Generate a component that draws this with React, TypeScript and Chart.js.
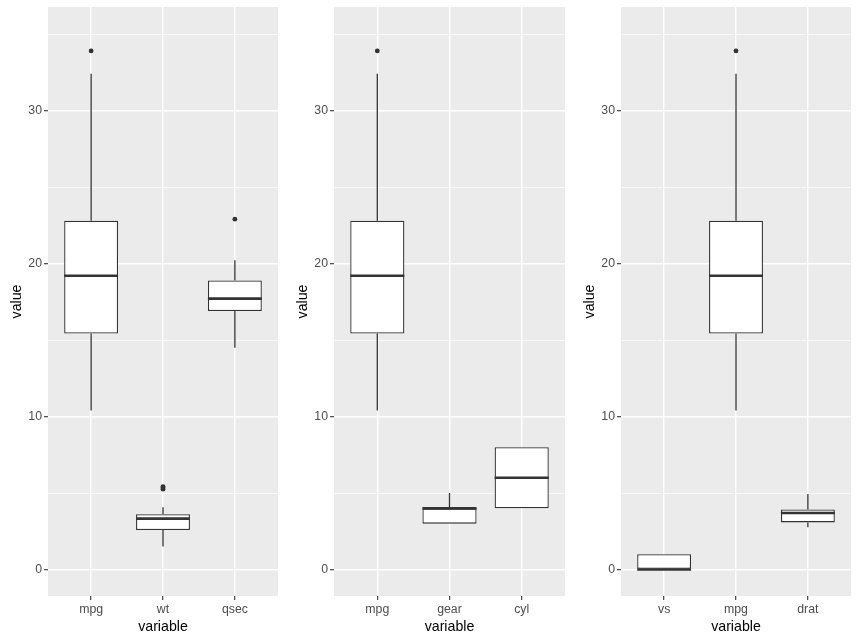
import React, { useEffect, useRef } from 'react';
import { Chart, registerables } from 'chart.js';

Chart.register(...registerables);

// ---- Data (mtcars boxplot statistics) ----
const VARIABLES = ['mpg', 'wt', 'qsec', 'gear', 'cyl', 'vs', 'drat'];
const LOWER_WHISKER = [10.4, 1.513, 14.5, 3, 4, 0, 2.76];
const Q1 = [15.425, 2.58125, 16.8925, 3, 4, 0, 3.08];
const MEDIAN = [19.2, 3.325, 17.71, 4, 6, 0, 3.695];
const Q3 = [22.8, 3.61, 18.9, 4, 8, 1, 3.92];
const UPPER_WHISKER = [32.4, 4.07, 20.22, 5, 8, 1, 4.93];
const OUTLIERS: number[][] = [[33.9], [5.25, 5.345, 5.424], [22.9], [], [], [], []];

const PANEL1 = ['mpg', 'wt', 'qsec'];
const PANEL2 = ['mpg', 'gear', 'cyl'];
const PANEL3 = ['vs', 'mpg', 'drat'];

const Y_MAJOR_TICKS = [0, 10, 20, 30];
const Y_MINOR_TICKS = [5, 15, 25, 35];

const X_TITLE = 'variable';
const Y_TITLE = 'value';

// ---- Styling ----
const FONT = '"Liberation Sans", Arial, Helvetica, sans-serif';
const INK = '#333333';
const PANEL_BG = '#EBEBEB';
const BOX_WIDTH = 0.75;
const CANVAS_H = 641;
const PLOT_TOP = 7;

const bgPlugin = {
  id: 'panelBg',
  beforeDraw(chart: any) {
    const { ctx, chartArea } = chart;
    ctx.save();
    ctx.fillStyle = PANEL_BG;
    ctx.fillRect(chartArea.left, chartArea.top, chartArea.right - chartArea.left, chartArea.bottom - chartArea.top);
    ctx.restore();
  },
};

function Panel({ vars, width, left }: { vars: string[]; width: number; left: number }) {
  const ref = useRef<HTMLCanvasElement>(null);
  useEffect(() => {
    if (!ref.current) return;
    const idx = vars.map((v) => VARIABLES.indexOf(v));
    const pos = vars.map((_, i) => i + 1);
    const boxes = idx.map((k, i) => ({ x: pos[i], y: [Q1[k], Q3[k]] }));
    const lowW = idx.map((k, i) => ({ x: pos[i], y: [LOWER_WHISKER[k], Q1[k]] }));
    const upW = idx.map((k, i) => ({ x: pos[i], y: [Q3[k], UPPER_WHISKER[k]] }));
    const med: any[] = [];
    idx.forEach((k, i) => {
      med.push({ x: pos[i] - BOX_WIDTH / 2, y: MEDIAN[k] });
      med.push({ x: pos[i] + BOX_WIDTH / 2, y: MEDIAN[k] });
      med.push({ x: pos[i] + 0.45, y: null });
    });
    const outs = idx.flatMap((k, i) => OUTLIERS[k].map((y) => ({ x: pos[i], y })));
    const allY = [...Y_MAJOR_TICKS, ...Y_MINOR_TICKS].sort((a, b) => a - b);

    const chart = new Chart(ref.current, {
      type: 'bar',
      data: {
        datasets: [
          {
            type: 'bar',
            data: lowW as any,
            grouped: false,
            backgroundColor: INK,
            borderWidth: 0,
            maxBarThickness: 1.3,
            order: 3,
          } as any,
          {
            type: 'bar',
            data: upW as any,
            grouped: false,
            backgroundColor: INK,
            borderWidth: 0,
            maxBarThickness: 1.3,
            order: 3,
          } as any,
          {
            type: 'bar',
            data: boxes as any,
            grouped: false,
            backgroundColor: '#FFFFFF',
            borderColor: INK,
            borderWidth: 1.3,
            borderSkipped: false,
            barPercentage: BOX_WIDTH,
            categoryPercentage: 1,
            order: 2,
          } as any,
          {
            type: 'line',
            data: med,
            borderColor: INK,
            borderWidth: 2.6,
            pointRadius: 0,
            spanGaps: false,
            tension: 0,
            order: 1,
          } as any,
          {
            type: 'scatter',
            data: outs as any,
            backgroundColor: INK,
            borderWidth: 0,
            pointRadius: 2.4,
            order: 0,
          } as any,
        ],
      },
      options: {
        animation: false,
        responsive: false,
        devicePixelRatio: 1,
        layout: { padding: { top: PLOT_TOP, right: 8, left: 0, bottom: 0 } },
        plugins: { legend: { display: false }, tooltip: { enabled: false } },
        scales: {
          x: {
            type: 'linear',
            min: 0.4,
            max: 3.6,
            offset: false,
            afterBuildTicks: (scale: any) => {
              scale.ticks = pos.map((p) => ({ value: p }));
            },
            afterFit: (scale: any) => {
              scale.height = 45;
            },
            ticks: {
              autoSkip: false,
              maxRotation: 0,
              padding: 2,
              color: '#4D4D4D',
              font: { family: FONT, size: 12.3 },
              callback: (v: any) => vars[Math.round(Number(v)) - 1] ?? '',
            },
            grid: {
              offset: false,
              color: '#FFFFFF',
              lineWidth: 1.4,
              drawTicks: true,
              tickLength: 4,
              tickColor: INK,
              tickWidth: 1.1,
            },
            border: { display: false },
            title: {
              display: true,
              text: X_TITLE,
              color: '#000000',
              font: { family: FONT, size: 14.2 },
              padding: { top: 0, bottom: 5 },
            },
          } as any,
          y: {
            type: 'linear',
            min: -1.73,
            max: 36.77,
            afterBuildTicks: (scale: any) => {
              scale.ticks = allY.map((v) => ({ value: v }));
            },
            afterFit: (scale: any) => {
              scale.width = 48;
              scale.paddingTop = 0;
              scale.paddingBottom = 0;
            },
            ticks: {
              autoSkip: false,
              padding: 2,
              color: '#4D4D4D',
              font: { family: FONT, size: 12.3 },
              callback: (v: any) => (Y_MAJOR_TICKS.includes(Number(v)) ? String(v) : ''),
            },
            grid: {
              color: '#FFFFFF',
              lineWidth: (c: any) => (Y_MAJOR_TICKS.includes(c.tick?.value) ? 1.4 : 0.7),
              drawTicks: true,
              tickLength: 4,
              tickColor: (c: any) => (Y_MAJOR_TICKS.includes(c.tick?.value) ? INK : 'rgba(0,0,0,0)'),
              tickWidth: 1.1,
            },
            border: { display: false },
            title: {
              display: true,
              text: Y_TITLE,
              color: '#000000',
              font: { family: FONT, size: 14.2 },
              padding: { top: 9, bottom: 0 },
            },
          } as any,
        },
      },
      plugins: [bgPlugin],
    });
    return () => chart.destroy();
  }, [vars, width]);

  return (
    <canvas
      ref={ref}
      width={width}
      height={CANVAS_H}
      style={{ position: 'absolute', left, top: 0, width, height: CANVAS_H, display: 'block' }}
    />
  );
}

export default function App() {
  return (
    <div style={{ position: 'absolute', left: 0, top: 0, width: 859, height: 641, background: '#FFFFFF', overflow: 'hidden' }}>
      <Panel vars={PANEL1} width={286} left={0} />
      <Panel vars={PANEL2} width={287} left={286} />
      <Panel vars={PANEL3} width={286} left={573} />
    </div>
  );
}
